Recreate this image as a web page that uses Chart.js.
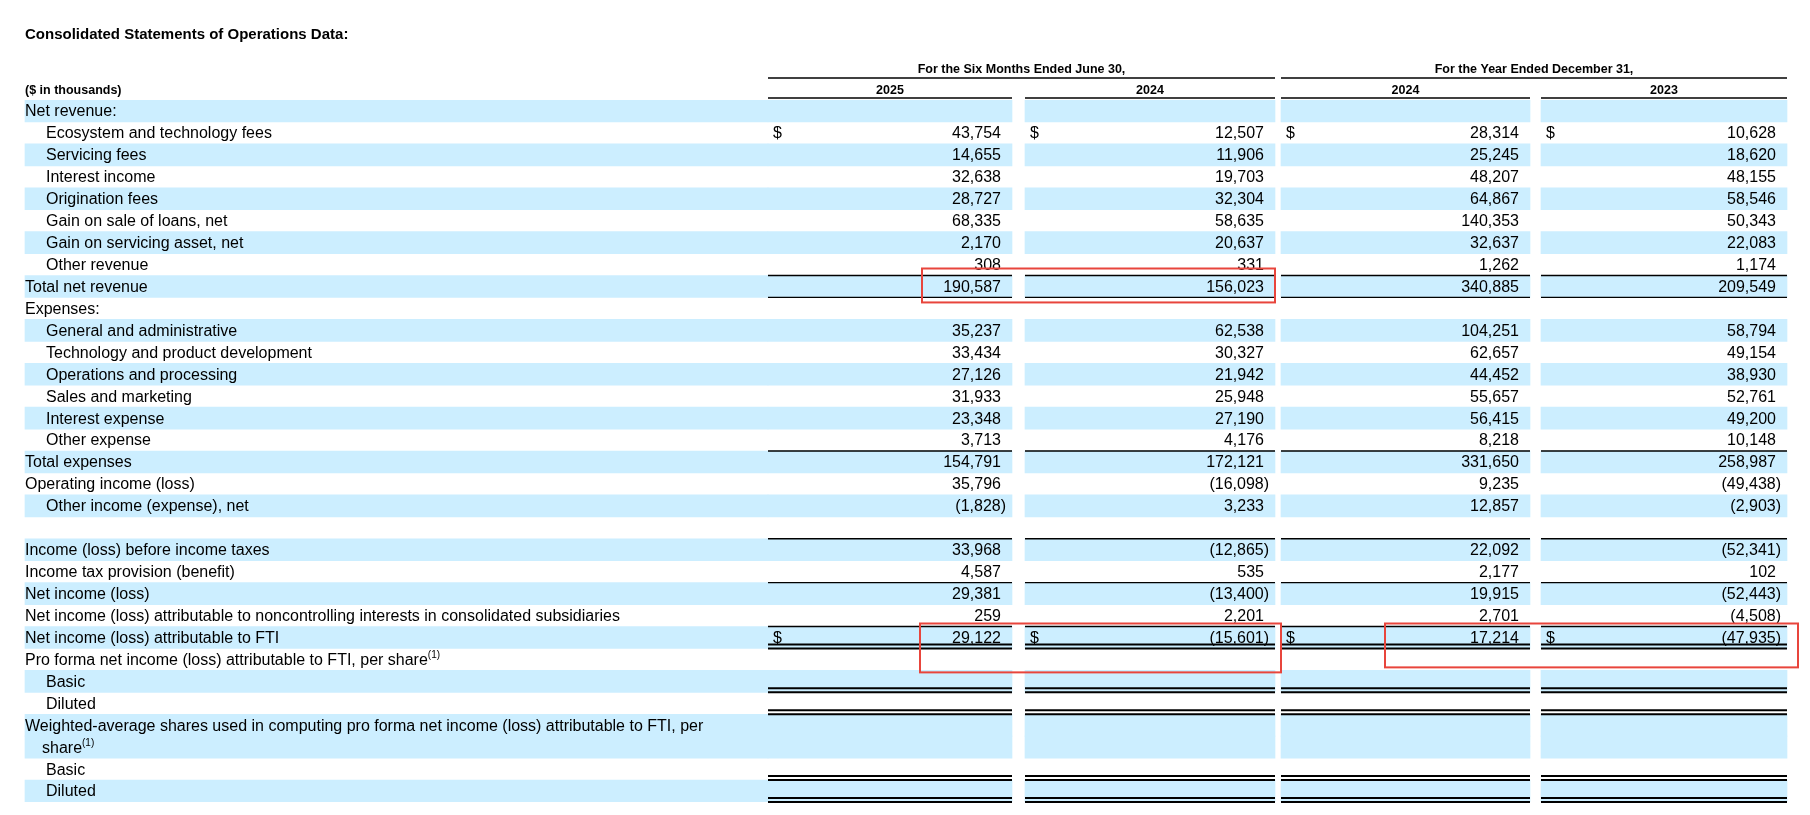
<!DOCTYPE html>
<html>
<head>
<meta charset="utf-8">
<script src="https://cdn.jsdelivr.net/npm/chart.js@4.4.1/dist/chart.umd.min.js"></script>
<style>
  body { margin: 0; background: #fff; }
  canvas { display: block; }
</style>
</head>
<body>
<canvas id="tbl" width="1810" height="815"></canvas>
<script>
// Linhas da tabela
const rowLabels = [
  'Net revenue:', 'Ecosystem and technology fees', 'Servicing fees', 'Interest income',
  'Origination fees', 'Gain on sale of loans, net', 'Gain on servicing asset, net', 'Other revenue',
  'Total net revenue', 'Expenses:', 'General and administrative', 'Technology and product development',
  'Operations and processing', 'Sales and marketing', 'Interest expense', 'Other expense',
  'Total expenses', 'Operating income (loss)', 'Other income (expense), net', '',
  'Income (loss) before income taxes', 'Income tax provision (benefit)', 'Net income (loss)',
  'Net income (loss) attributable to noncontrolling interests in consolidated subsidiaries',
  'Net income (loss) attributable to FTI', 'Pro forma net income (loss) attributable to FTI, per share',
  'Basic', 'Diluted',
  'Weighted-average shares used in computing pro forma net income (loss) attributable to FTI, per',
  'share', 'Basic', 'Diluted'
];
const rowIndent = [0,1,1,1,1,1,1,1,0,0,1,1,1,1,1,1,0,0,1,0,0,0,0,0,0,0,1,1,0,2,1,1];
const rowSup = [25, 29];
const rowShaded = [1,0,1,0,1,0,1,0,1,0,1,0,1,0,1,0,1,0,1,0,1,0,1,0,1,0,1,0,1,1,0,1];
const dollarRows = [1, 24];

const groupTitles = ['For the Six Months Ended June 30,', 'For the Year Ended December 31,'];
const yearLabels = ['2025', '2024', '2024', '2023'];

// Valores ($ em milhares)
const six2025 = [null, 43754, 14655, 32638, 28727, 68335, 2170, 308, 190587, null, 35237, 33434, 27126, 31933, 23348, 3713, 154791, 35796, -1828, null, 33968, 4587, 29381, 259, 29122];
const six2024 = [null, 12507, 11906, 19703, 32304, 58635, 20637, 331, 156023, null, 62538, 30327, 21942, 25948, 27190, 4176, 172121, -16098, 3233, null, -12865, 535, -13400, 2201, -15601];
const year2024 = [null, 28314, 25245, 48207, 64867, 140353, 32637, 1262, 340885, null, 104251, 62657, 44452, 55657, 56415, 8218, 331650, 9235, 12857, null, 22092, 2177, 19915, 2701, 17214];
const year2023 = [null, 10628, 18620, 48155, 58546, 50343, 22083, 1174, 209549, null, 58794, 49154, 38930, 52761, 49200, 10148, 258987, -49438, -2903, null, -52341, 102, -52443, -4508, -47935];
const columnValues = [six2025, six2024, year2024, year2023];

// Bordas
const lineTop = [8, 16, 20, 22, 24];
const lineBottom = [8];
const doubleBottom = [24, 26, 27, 30, 31];

// Layout (unidades = pixels do eixo x)
const LABEL_X = 25, INDENT = 21;
const cols = [[768, 1012], [1025, 1275], [1281, 1530], [1541, 1787]];
const groups = [[768, 1275], [1281, 1787]];
const SHADE = '#cceeff';
const FONT = '"Liberation Sans", Arial, sans-serif';

function fmt(v) {
  const s = Math.abs(v).toLocaleString('en-US');
  return v < 0 ? '(' + s + ')' : s;
}

const bands = [[LABEL_X, cols[0][0]]].concat(cols);
const datasets = bands.map(function(b) {
  return {
    data: rowShaded.map(s => s ? [b[0], b[1]] : null),
    backgroundColor: SHADE,
    borderWidth: 0,
    barPercentage: 1,
    categoryPercentage: 1,
    grouped: false
  };
});

const tablePlugin = {
  id: 'tableText',
  afterDatasetsDraw(chart) {
    const ctx = chart.ctx, x = chart.scales.x, y = chart.scales.y;
    const half = (y.getPixelForValue(1) - y.getPixelForValue(0)) / 2;
    const top = i => y.getPixelForValue(i) - half;
    const bot = i => y.getPixelForValue(i) + half;
    const px = v => x.getPixelForValue(v);
    const hline = (x0, x1, yy, w) => {
      ctx.lineWidth = w || 1.3;
      ctx.beginPath(); ctx.moveTo(px(x0), yy); ctx.lineTo(px(x1), yy); ctx.stroke();
    };
    ctx.save();
    ctx.fillStyle = '#000';
    ctx.strokeStyle = '#000';
    ctx.textBaseline = 'middle';

    // Título e cabeçalho
    ctx.font = 'bold 15px ' + FONT;
    ctx.fillText('Consolidated Statements of Operations Data:', px(LABEL_X), 35);
    ctx.font = 'bold 12.5px ' + FONT;
    ctx.fillText('($ in thousands)', px(LABEL_X), top(0) - 9);
    ctx.textAlign = 'center';
    groups.forEach(function(g, k) {
      ctx.fillText(groupTitles[k], px((g[0] + g[1]) / 2), top(0) - 30);
      hline(g[0], g[1], top(0) - 22);
    });
    cols.forEach(function(c, k) {
      ctx.fillText(yearLabels[k], px((c[0] + c[1]) / 2), top(0) - 9);
      hline(c[0], c[1], top(0) - 2);
    });

    // Rótulos das linhas
    ctx.textAlign = 'left';
    rowLabels.forEach(function(lbl, i) {
      const lx = px(LABEL_X + rowIndent[i] * (rowIndent[i] === 2 ? 8.5 : INDENT));
      const cy = y.getPixelForValue(i) + 1;
      ctx.font = '16px ' + FONT;
      ctx.fillText(lbl, lx, cy);
      if (rowSup.indexOf(i) >= 0) {
        const w = ctx.measureText(lbl).width;
        ctx.font = '10px ' + FONT;
        ctx.fillText('(1)', lx + w, cy - 5);
      }
    });

    // Valores
    ctx.font = '16px ' + FONT;
    columnValues.forEach(function(vals, k) {
      const c = cols[k];
      vals.forEach(function(v, i) {
        if (v === null) return;
        const cy = y.getPixelForValue(i) + 1;
        ctx.textAlign = 'right';
        ctx.fillText(fmt(v), px(c[1] - (v < 0 ? 6 : 11)), cy);
        if (dollarRows.indexOf(i) >= 0) {
          ctx.textAlign = 'left';
          ctx.fillText('$', px(c[0] + 5), cy);
        }
      });
    });

    // Bordas
    cols.forEach(function(c) {
      lineTop.forEach(i => hline(c[0], c[1], top(i)));
      lineBottom.forEach(i => hline(c[0], c[1], bot(i)));
      doubleBottom.forEach(function(i) {
        hline(c[0], c[1], bot(i) - 4, 2);
        hline(c[0], c[1], bot(i), 2);
      });
    });

    // Destaques em vermelho
    ctx.strokeStyle = '#e8453c';
    ctx.lineWidth = 2;
    const box = (x0, x1, r0, r1, pt, pb) => {
      ctx.strokeRect(px(x0), top(r0) - pt, px(x1) - px(x0), bot(r1) + pb - (top(r0) - pt));
    };
    box(922, 1275, 8, 8, 7, 5);
    box(920, 1281, 24, 25, 3, 2);
    box(1385, 1798, 24, 25, 3, -3);
    ctx.restore();
  }
};

new Chart(document.getElementById('tbl'), {
  type: 'bar',
  data: { labels: rowLabels.map((l, i) => i), datasets: datasets },
  options: {
    indexAxis: 'y',
    responsive: false,
    animation: false,
    layout: { padding: { top: 100, bottom: 13, left: 0, right: 0 } },
    plugins: { legend: { display: false }, tooltip: { enabled: false } },
    scales: {
      x: { type: 'linear', min: 0, max: 1810, display: false },
      y: { type: 'category', display: false }
    }
  },
  plugins: [tablePlugin]
});
</script>
</body>
</html>
